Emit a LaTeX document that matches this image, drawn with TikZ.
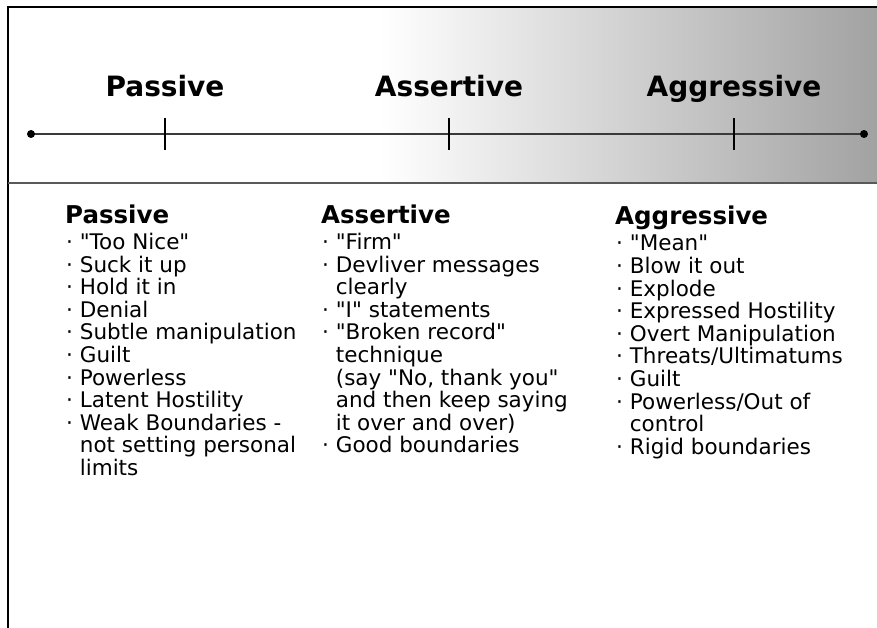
\documentclass[tikz,border=0pt]{standalone}
\usepackage{fontspec}
\setmainfont{DejaVu Sans}[Ligatures=TeXOff]
\usepackage{xcolor}
\usetikzlibrary{positioning}

\definecolor{bandgray}{HTML}{A2A2A2}
\definecolor{axisgray}{HTML}{3A3A3A}
\newcommand{\hang}{\hphantom{· }}

\begin{document}
\begin{tikzpicture}[x=1pt,y=-1pt,
    toplabel/.style={font=\fontsize{28}{28}\selectfont\bfseries, anchor=base, inner sep=0pt},
    colhead/.style={font=\fontsize{24.5}{24}\selectfont\bfseries, anchor=base west, inner sep=0pt},
    collist/.style={font=\fontsize{21.5}{22.6}\selectfont, align=left, anchor=north west, inner sep=0pt},
    tickmark/.style={line width=1.2pt}]
    \useasboundingbox (0,0) rectangle (877,628);

    % band behind the scale
    \fill[white] (8,7) rectangle (380,183);
    \shade[left color=white, right color=bandgray] (380,7) rectangle (877,183);

    % frame
    \draw[line width=2.5pt] (877,7) -- (8,7) -- (8,628);
    \draw[line width=2pt, black!65] (8,183) -- (877,183);

    % scale
    \coordinate (lend) at (31,134);
    \coordinate (rend) at (864,134);
    \draw[axisgray, line width=2.8pt] (lend) -- (rend);
    \fill (lend) circle (4pt);
    \fill (rend) circle (4pt);

    % ticks and labels
    \foreach \x/\n/\t in {165/pas/Passive, 449/ass/Assertive, 734/agg/Aggressive} {
        \coordinate (t\n) at (\x,134);
        \draw[tickmark] (\x,118) -- (\x,150);
        \node[toplabel] (top\n) at (\x,97) {\t};
    }

    % Passive
    \node[colhead] (hpas) at (65,223) {Passive};
    \node[collist] (lpas) at (66,233) {%
        · "Too Nice"\\
        · Suck it up\\
        · Hold it in\\
        · Denial\\
        · Subtle manipulation\\
        · Guilt\\
        · Powerless\\
        · Latent Hostility\\
        · Weak Boundaries -\\
        \hang not setting personal\\
        \hang limits};

    % Assertive
    \node[colhead] (hass) at (321,223) {Assertive};
    \node[collist] (lass) at (322,233) {%
        · "Firm"\\
        · Devliver messages\\
        \hang clearly\\
        · "I" statements\\
        · "Broken record"\\
        \hang technique\\
        \hang (say "No, thank you"\\
        \hang and then keep saying\\
        \hang it over and over)\\
        · Good boundaries};

    % Aggressive
    \node[colhead] (hagg) at (615,225) {Aggressive};
    \node[collist] (lagg) at (616,235) {%
        · "Mean"\\
        · Blow it out\\
        · Explode\\
        · Expressed Hostility\\
        · Overt Manipulation\\
        · Threats/Ultimatums\\
        · Guilt\\
        · Powerless/Out of\\
        \hang control\\
        · Rigid boundaries};
\end{tikzpicture}
\end{document}
